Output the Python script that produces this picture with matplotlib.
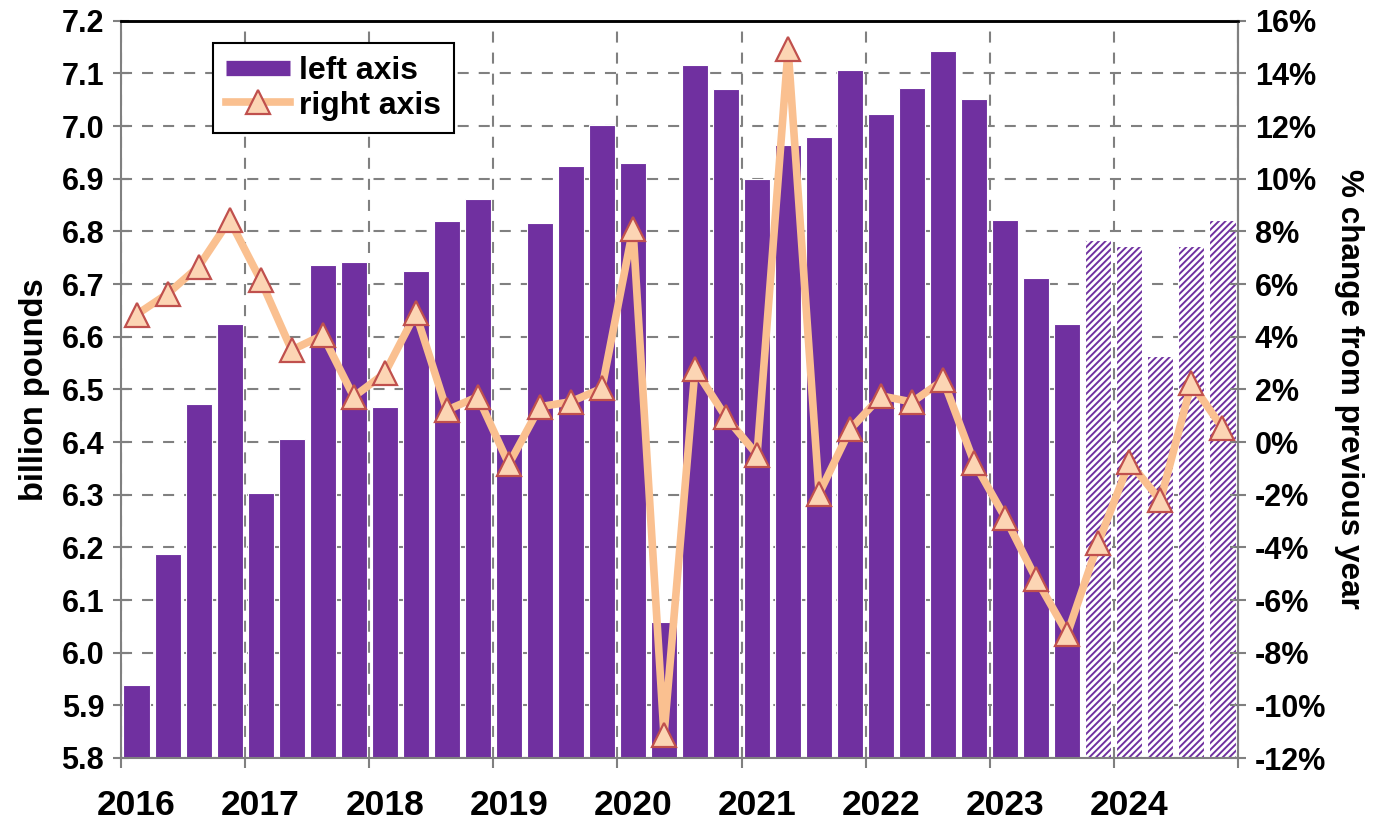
import matplotlib
matplotlib.use('Agg')
import matplotlib.pyplot as plt
import numpy as np
from matplotlib.ticker import FixedLocator, FuncFormatter, NullFormatter
from matplotlib.lines import Line2D

# ---- data ----
years = [2016, 2017, 2018, 2019, 2020, 2021, 2022, 2023, 2024]
sales_bn = [5.938, 6.187, 6.472, 6.625,
            6.303, 6.406, 6.736, 6.741,
            6.466, 6.725, 6.820, 6.861,
            6.415, 6.816, 6.925, 7.002,
            6.930, 6.059, 7.115, 7.070,
            6.899, 6.964, 6.979, 7.106,
            7.023, 7.072, 7.143, 7.052,
            6.822, 6.712, 6.624, 6.784,
            6.773, 6.564, 6.773, 6.822]
pct_change = [4.84, 5.63, 6.66, 8.43,
              6.15, 3.49, 4.06, 1.72,
              2.61, 4.89, 1.21, 1.72,
              -0.84, 1.34, 1.53, 2.04,
              8.10, -11.13, 2.77, 0.94,
              -0.48, 14.92, -1.96, 0.48,
              1.75, 1.52, 2.35, -0.79,
              -2.88, -5.21, -7.28, -3.82,
              -0.76, -2.22, 2.23, 0.53]
n_forecast = 5
left_ticks = [5.8, 5.9, 6.0, 6.1, 6.2, 6.3, 6.4, 6.5, 6.6, 6.7, 6.8, 6.9, 7.0, 7.1, 7.2]
right_ticks = [-12, -10, -8, -6, -4, -2, 0, 2, 4, 6, 8, 10, 12, 14, 16]

plt.rcParams['font.family'] = ['Liberation Sans', 'DejaVu Sans']
plt.rcParams['font.weight'] = 'bold'
plt.rcParams['hatch.linewidth'] = 1.4

purple = '#7030A0'
grid_c = '#808080'
line_c = '#FAC090'
mface = '#FCD5B4'
medge = '#C0504D'

fig = plt.figure(figsize=(13.8, 8.24), dpi=100)
W, H = 1380, 824
x0, x1, y0, y1 = 121, 1238, 20.7, 758
ax = fig.add_axes([x0 / W, 1 - y1 / H, (x1 - x0) / W, (y1 - y0) / H])

n = len(sales_bn)
xq = np.arange(n) + 0.5
n_act = n - n_forecast
bw = 0.84

ax.bar(xq[:n_act], sales_bn[:n_act], width=bw, color=purple,
       edgecolor='white', linewidth=0.8, zorder=2)
ax.bar(xq[n_act:], sales_bn[n_act:], width=bw, facecolor='white',
       edgecolor=purple, hatch='/////', linewidth=0, zorder=2)
ax.bar(xq[n_act:], sales_bn[n_act:], width=bw, fill=False,
       edgecolor='white', linewidth=0.8, zorder=2)

ax.set_xlim(0, n)
ax.set_ylim(5.8, 7.2)
ax.set_axisbelow(True)

dash = (0, (5.3, 4.8))
ax.yaxis.set_major_locator(FixedLocator(left_ticks))
ax.yaxis.set_major_formatter(FuncFormatter(lambda v, p: f"{v:.1f}"))
ax.xaxis.set_major_locator(FixedLocator(list(range(0, n + 1, 4))))
ax.xaxis.set_major_formatter(NullFormatter())
ax.xaxis.set_minor_locator(FixedLocator([4 * k + 0.5 for k in range(len(years))]))
ax.xaxis.set_minor_formatter(FuncFormatter(lambda v, p: str(years[int(v // 4)])))
ax.grid(True, which='major', axis='both', color=grid_c, linewidth=1.5, linestyle=dash)

ax.tick_params(axis='y', which='major', direction='inout', length=12, width=1.5,
               color=grid_c, labelsize=22, pad=6)
ax.tick_params(axis='x', which='major', direction='out', length=7.5, width=1.5,
               color=grid_c)
ax.tick_params(axis='x', which='minor', length=0, labelsize=25.5, pad=22)

for s in ['left', 'bottom', 'right']:
    ax.spines[s].set_color(grid_c)
    ax.spines[s].set_linewidth(1.5)
ax.spines['top'].set_color('black')
ax.spines['top'].set_linewidth(1.8)

ax.set_ylabel('billion pounds', fontsize=23.5, fontweight='bold', labelpad=8)

ax2 = ax.twinx()
ax2.plot(xq, pct_change, color=line_c, linewidth=5.5, marker='^', markersize=17,
         markerfacecolor=mface, markeredgecolor=medge, markeredgewidth=1.6,
         zorder=3, clip_on=False)
ax2.set_ylim(-12, 16)
ax2.yaxis.set_major_locator(FixedLocator(right_ticks))
ax2.yaxis.set_major_formatter(FuncFormatter(lambda v, p: f"{int(round(v))}%"))
ax2.tick_params(axis='y', direction='inout', length=12, width=1.5,
                color=grid_c, labelsize=22, pad=6)
for s in ['left', 'bottom']:
    ax2.spines[s].set_visible(False)
ax2.spines['right'].set_color(grid_c)
ax2.spines['right'].set_linewidth(1.5)
ax2.spines['top'].set_color('black')
ax2.spines['top'].set_linewidth(1.8)
ax2.set_ylabel('% change from previous year', fontsize=22.7, fontweight='bold',
               rotation=270, va='bottom', labelpad=6)

handles = [
    Line2D([], [], color=purple, linewidth=11, solid_capstyle='butt'),
    Line2D([], [], color=line_c, linewidth=5.5, marker='^', markersize=17,
           markerfacecolor=mface, markeredgecolor=medge, markeredgewidth=1.6),
]
leg = ax2.legend(handles, ['left axis', 'right axis'], loc='upper left',
                 bbox_to_anchor=((213 - x0) / (x1 - x0), (y1 - 43) / (y1 - y0)),
                 borderaxespad=0, frameon=True, fancybox=False, framealpha=1,
                 edgecolor='black', handlelength=2.0,
                 handletextpad=0.3, labelspacing=0.15, borderpad=0.4,
                 numpoints=1, prop={'weight': 'bold', 'size': 23})
leg.get_frame().set_linewidth(1.5)

fig.savefig('out.png', dpi=100)
